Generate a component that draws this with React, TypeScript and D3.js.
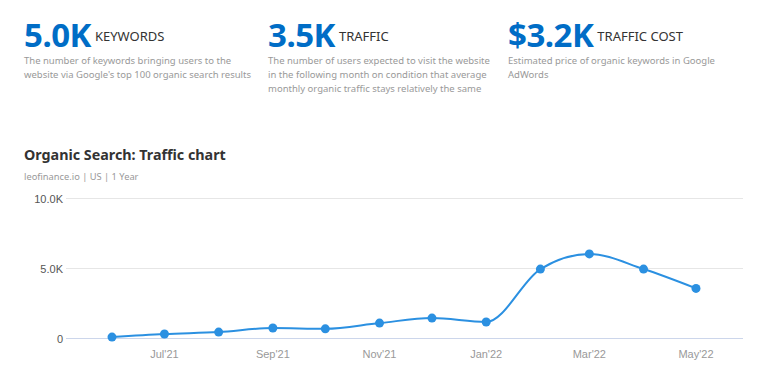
import React, { useEffect, useRef } from 'react';
import * as d3 from 'd3';

const months = [
  '2021-06-01', '2021-07-01', '2021-08-01', '2021-09-01', '2021-10-01', '2021-11-01',
  '2021-12-01', '2022-01-01', '2022-02-01', '2022-03-01', '2022-04-01', '2022-05-01',
];
const traffic = [100, 320, 460, 750, 690, 1100, 1460, 1180, 4960, 6040, 4960, 3580];
const yTicks = [0, 5000, 10000];
const xTickMonths = ['2021-07-01', '2021-09-01', '2021-11-01', '2022-01-01', '2022-03-01', '2022-05-01'];

const metricValues = ['5.0K', '3.5K', '$3.2K'];
const metricNames = ['KEYWORDS', 'TRAFFIC', 'TRAFFIC COST'];
const metricNotes = [
  ['The number of keywords bringing users to the', "website via Google's top 100 organic search results"],
  [
    'The number of users expected to visit the website',
    'in the following month on condition that average',
    'monthly organic traffic stays relatively the same',
  ],
  ['Estimated price of organic keywords in Google', 'AdWords'],
];

const W = 759;
const H = 366;
const FONT = "'Noto Sans', 'Open Sans', sans-serif";

const App: React.FC = () => {
  const ref = useRef<SVGSVGElement>(null);

  useEffect(() => {
    if (!ref.current) return;
    const svg = d3.select(ref.current);
    svg.selectAll('*').remove();

    // header metrics
    const colX = [24, 268, 508];
    metricValues.forEach((v, i) => {
      const g = svg.append('g').attr('transform', `translate(${colX[i]},0)`);
      const big = g
        .append('text')
        .attr('x', 0)
        .attr('y', 47)
        .style('font-family', FONT)
        .style('font-size', '33px')
        .style('font-weight', 'bold')
        .style('fill', '#006dc6')
        .style('letter-spacing', '-0.5px')
        .text(v);
      const bw = (big.node() as SVGTextElement).getComputedTextLength();
      g.append('text')
        .attr('x', bw + 4)
        .attr('y', 41)
        .style('font-family', FONT)
        .style('font-size', '13px')
        .style('fill', '#333')
        .text(metricNames[i]);
      metricNotes[i].forEach((line, j) => {
        g.append('text')
          .attr('x', 0)
          .attr('y', 64 + j * 14)
          .style('font-family', FONT)
          .style('font-size', '9.5px')
          .style('fill', '#999')
          .text(line);
      });
    });

    svg
      .append('text')
      .attr('x', 24)
      .attr('y', 160)
      .style('font-family', FONT)
      .style('font-size', '14.3px')
      .style('font-weight', 'bold')
      .style('fill', '#333')
      .text('Organic Search: Traffic chart');
    svg
      .append('text')
      .attr('x', 24)
      .attr('y', 180)
      .style('font-family', FONT)
      .style('font-size', '9.3px')
      .style('fill', '#999')
      .text('leofinance.io | US | 1 Year');

    // chart
    const parse = d3.utcParse('%Y-%m-%d');
    const dates = months.map((m) => parse(m) as Date);
    const x = d3.scaleUtc().domain([dates[0], dates[dates.length - 1]]).range([112, 696]);
    const y = d3.scaleLinear().domain([0, 10000]).range([338.5, 198.5]);

    const grid = svg.append('g');
    yTicks.forEach((t) => {
      grid
        .append('line')
        .attr('x1', 66)
        .attr('x2', 743)
        .attr('y1', y(t))
        .attr('y2', y(t))
        .attr('stroke', t === 0 ? '#ccd6eb' : '#e6e6e6')
        .attr('stroke-width', 1);
      grid
        .append('text')
        .attr('x', 63)
        .attr('y', y(t) + 4)
        .attr('text-anchor', 'end')
        .style('font-family', "'Liberation Sans', Arial, sans-serif")
        .style('font-size', '11px')
        .style('fill', '#555')
        .text(t === 0 ? '0' : `${d3.format('.1f')(t / 1000)}K`);
    });

    const fmt = d3.utcFormat("%b'%y");
    xTickMonths.forEach((m) => {
      const d = parse(m) as Date;
      svg
        .append('text')
        .attr('x', x(d))
        .attr('y', 358)
        .attr('text-anchor', 'middle')
        .style('font-family', "'Liberation Sans', Arial, sans-serif")
        .style('font-size', '11px')
        .style('fill', '#999')
        .text(fmt(d));
    });

    const pts = dates.map((d, i) => ({ d, v: traffic[i] }));
    const line = d3
      .line<{ d: Date; v: number }>()
      .x((p) => x(p.d))
      .y((p) => y(p.v))
      .curve(d3.curveMonotoneX);

    svg
      .append('path')
      .datum(pts)
      .attr('d', line)
      .attr('fill', 'none')
      .attr('stroke', '#2b90e1')
      .attr('stroke-width', 2);

    svg
      .selectAll('circle.pt')
      .data(pts)
      .enter()
      .append('circle')
      .attr('class', 'pt')
      .attr('cx', (p) => x(p.d))
      .attr('cy', (p) => y(p.v))
      .attr('r', 4.5)
      .attr('fill', '#2b90e1');
  }, []);

  return (
    <div style={{ position: 'absolute', left: 0, top: 0, background: '#fff' }}>
      <svg ref={ref} width={W} height={H} style={{ display: 'block' }} />
    </div>
  );
};

export default App;
